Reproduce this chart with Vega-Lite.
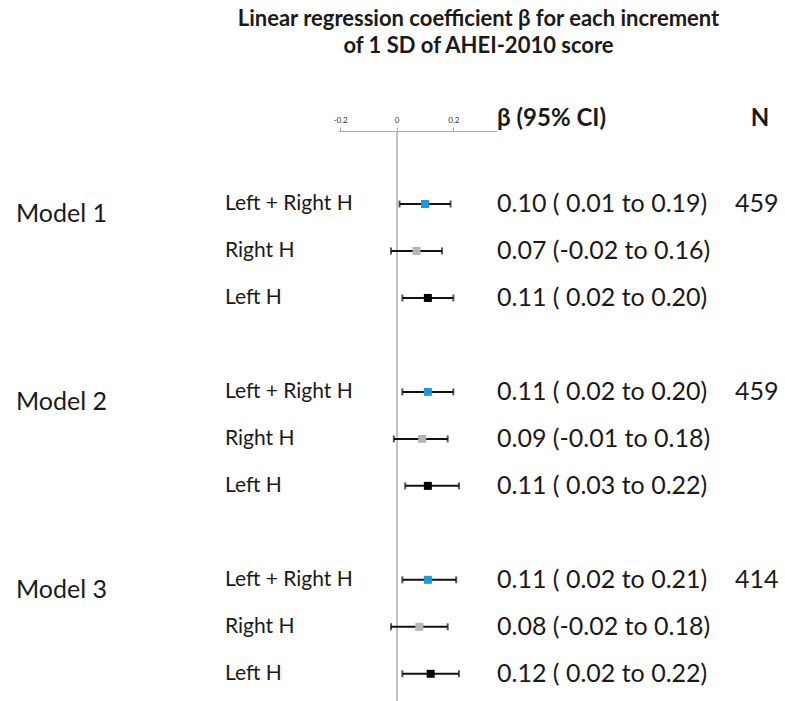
{
  "$schema": "https://vega.github.io/schema/vega-lite/v6.json",
  "padding": {"left": 16, "top": 8, "right": 0, "bottom": 0},
  "bounds": "flush",
  "title": {
    "text": ["Linear regression coefficient β for each increment", "of 1 SD of AHEI-2010 score"],
    "font": "Lato", "fontSize": 22, "fontWeight": "bold", "color": "#1a1a1a",
    "anchor": "middle", "dx": 78, "lineHeight": 27, "offset": 49
  },
  "config": {"view": {"stroke": null}, "concat": {"spacing": 0}, "font": "Lato"},
  "datasets": {
    "rows": [
      {"model": "Model 1", "side": "Left + Right H", "row": 0, "beta": 0.10, "lo": 0.01, "hi": 0.19, "ci": "0.10 ( 0.01 to 0.19)", "n": "459"},
      {"model": "Model 1", "side": "Right H", "row": 1, "beta": 0.07, "lo": -0.02, "hi": 0.16, "ci": "0.07 (-0.02 to 0.16)", "n": ""},
      {"model": "Model 1", "side": "Left H", "row": 2, "beta": 0.11, "lo": 0.02, "hi": 0.20, "ci": "0.11 ( 0.02 to 0.20)", "n": ""},
      {"model": "Model 2", "side": "Left + Right H", "row": 4, "beta": 0.11, "lo": 0.02, "hi": 0.20, "ci": "0.11  ( 0.02 to 0.20)", "n": "459"},
      {"model": "Model 2", "side": "Right H", "row": 5, "beta": 0.09, "lo": -0.01, "hi": 0.18, "ci": "0.09  (-0.01 to 0.18)", "n": ""},
      {"model": "Model 2", "side": "Left H", "row": 6, "beta": 0.11, "lo": 0.03, "hi": 0.22, "ci": "0.11  ( 0.03 to 0.22)", "n": ""},
      {"model": "Model 3", "side": "Left + Right H", "row": 8, "beta": 0.11, "lo": 0.02, "hi": 0.21, "ci": "0.11 ( 0.02 to 0.21)", "n": "414"},
      {"model": "Model 3", "side": "Right H", "row": 9, "beta": 0.08, "lo": -0.02, "hi": 0.18, "ci": "0.08 (-0.02 to 0.18)", "n": ""},
      {"model": "Model 3", "side": "Left H", "row": 10, "beta": 0.12, "lo": 0.02, "hi": 0.22, "ci": "0.12 ( 0.02 to 0.22)", "n": ""}
    ]
  },
  "hconcat": [
    {
      "width": 209, "height": 571,
      "data": {"name": "rows"},
      "transform": [{"filter": "datum.side == 'Left + Right H'"}],
      "mark": {"type": "text", "align": "left", "baseline": "middle", "fontSize": 25, "dy": 10, "color": "#1a1a1a"},
      "encoding": {
        "x": {"datum": 0, "type": "quantitative", "scale": {"domain": [0, 1]}, "axis": null},
        "y": {"field": "row", "type": "quantitative", "scale": {"domain": [-1.553, 10.6], "reverse": true, "nice": false, "zero": false}, "axis": null},
        "text": {"field": "model"}
      }
    },
    {
      "width": 113, "height": 571,
      "data": {"name": "rows"},
      "mark": {"type": "text", "align": "left", "baseline": "middle", "fontSize": 21, "color": "#1a1a1a"},
      "encoding": {
        "x": {"datum": 0, "type": "quantitative", "scale": {"domain": [0, 1]}, "axis": null},
        "y": {"field": "row", "type": "quantitative", "scale": {"domain": [-1.553, 10.6], "reverse": true, "nice": false, "zero": false}, "axis": null},
        "text": {"field": "side"}
      }
    },
    {
      "width": 159, "height": 571,
      "data": {"name": "rows"},
      "encoding": {
        "y": {"field": "row", "type": "quantitative", "scale": {"domain": [-1.553, 10.6], "reverse": true, "nice": false, "zero": false}, "axis": null}
      },
      "layer": [
        {
          "mark": {"type": "rule", "color": "#c4c0c0", "strokeWidth": 1.2},
          "encoding": {
            "x": {"datum": 0, "type": "quantitative",
              "scale": {"domain": [-0.207, 0.354], "nice": false, "zero": false},
              "axis": {"orient": "top", "values": [-0.2, 0, 0.2], "title": null, "grid": false,
                "labelExpr": "datum.value < 0 ? '-' + format(-datum.value, '.1f') : (datum.value == 0 ? '0' : format(datum.value, '.1f'))",
                "labelFontSize": 8, "labelColor": "#333", "labelPadding": 3, "tickSize": 4, "tickColor": "#aaa", "domainColor": "#aaa", "domainWidth": 1.2}},
            "y": null
          }
        },
        {
          "mark": {"type": "rule", "color": "#111", "strokeWidth": 2},
          "encoding": {
            "x": {"field": "lo", "type": "quantitative"},
            "x2": {"field": "hi"}
          }
        },
        {
          "mark": {"type": "tick", "orient": "vertical", "color": "#111", "thickness": 2, "size": 7},
          "encoding": {"x": {"field": "lo", "type": "quantitative"}}
        },
        {
          "mark": {"type": "tick", "orient": "vertical", "color": "#111", "thickness": 2, "size": 7},
          "encoding": {"x": {"field": "hi", "type": "quantitative"}}
        },
        {
          "mark": {"type": "point", "shape": "square", "filled": true, "size": 64, "opacity": 1},
          "encoding": {
            "x": {"field": "beta", "type": "quantitative"},
            "color": {"field": "side", "type": "nominal",
              "scale": {"domain": ["Left + Right H", "Right H", "Left H"], "range": ["#1d9ad6", "#b5b5b5", "#000000"]},
              "legend": null}
          }
        }
      ]
    },
    {
      "width": 238, "height": 571,
      "title": {"text": "β (95% CI)", "anchor": "start", "fontSize": 24, "fontWeight": "bold", "color": "#1a1a1a", "offset": 0},
      "data": {"name": "rows"},
      "mark": {"type": "text", "align": "left", "baseline": "middle", "fontSize": 25, "color": "#1a1a1a"},
      "encoding": {
        "x": {"datum": 0, "type": "quantitative", "scale": {"domain": [0, 1]}, "axis": null},
        "y": {"field": "row", "type": "quantitative", "scale": {"domain": [-1.553, 10.6], "reverse": true, "nice": false, "zero": false}, "axis": null},
        "text": {"field": "ci"}
      }
    },
    {
      "width": 50, "height": 571,
      "title": {"text": "N", "anchor": "middle", "fontSize": 24, "fontWeight": "bold", "color": "#1a1a1a", "offset": 0},
      "data": {"name": "rows"},
      "transform": [{"filter": "datum.n != ''"}],
      "mark": {"type": "text", "align": "left", "baseline": "middle", "fontSize": 25, "color": "#1a1a1a"},
      "encoding": {
        "x": {"datum": 0, "type": "quantitative", "scale": {"domain": [0, 1]}, "axis": null},
        "y": {"field": "row", "type": "quantitative", "scale": {"domain": [-1.553, 10.6], "reverse": true, "nice": false, "zero": false}, "axis": null},
        "text": {"field": "n"}
      }
    }
  ]
}
